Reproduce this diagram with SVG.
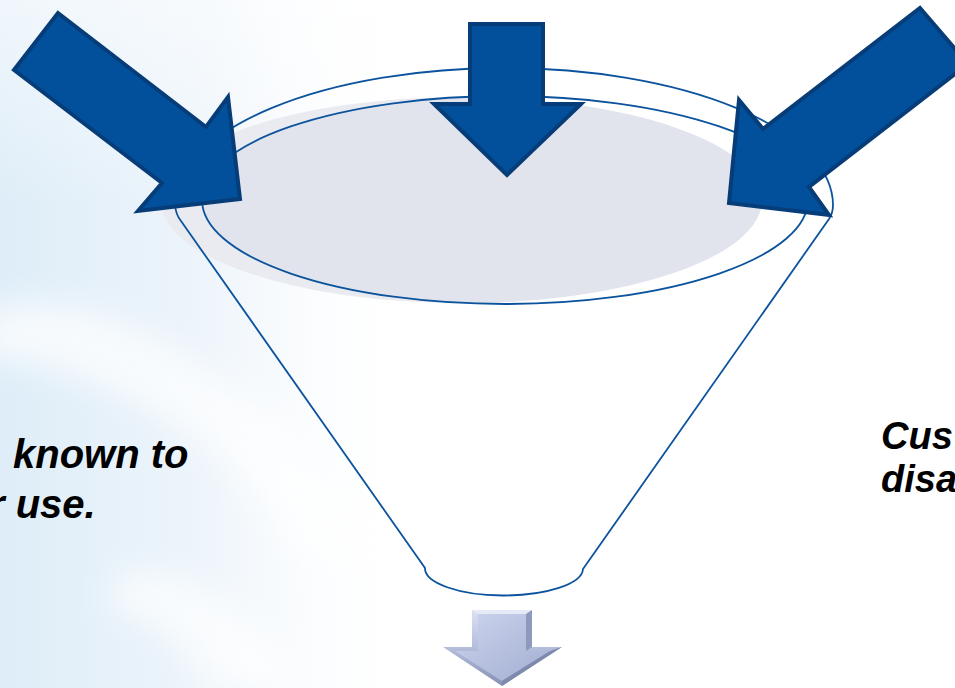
<svg xmlns="http://www.w3.org/2000/svg" width="955" height="688" viewBox="0 0 955 688">
  <defs>
    <linearGradient id="bgWash" x1="0" y1="0" x2="1" y2="0">
      <stop offset="0" stop-color="#deedf8"/>
      <stop offset="0.5" stop-color="#eef5fb"/>
      <stop offset="1" stop-color="#ffffff" stop-opacity="0"/>
    </linearGradient>
    <linearGradient id="bgFade" x1="0" y1="0" x2="0" y2="1">
      <stop offset="0" stop-color="#ffffff" stop-opacity="0.55"/>
      <stop offset="0.3" stop-color="#ffffff" stop-opacity="0"/>
      <stop offset="1" stop-color="#ffffff" stop-opacity="0"/>
    </linearGradient>
    <filter id="blur" x="-50%" y="-50%" width="200%" height="200%">
      <feGaussianBlur stdDeviation="16"/>
    </filter>
    <linearGradient id="silver" x1="0" y1="0" x2="0" y2="1">
      <stop offset="0" stop-color="#dbe1f3"/>
      <stop offset="0.5" stop-color="#b4bedb"/>
      <stop offset="1" stop-color="#8591b5"/>
    </linearGradient>
    <linearGradient id="silverFace" x1="0" y1="0" x2="1" y2="1">
      <stop offset="0" stop-color="#cdd5ee"/>
      <stop offset="1" stop-color="#a2add0"/>
    </linearGradient>
    <clipPath id="grayClip">
      <ellipse cx="461" cy="200" rx="301" ry="103"/>
    </clipPath>
    <style>
      .arrow { fill: #02509b; stroke: #063d78; stroke-width: 4; stroke-linejoin: miter; }
      .rim { fill: none; stroke: #0b539d; stroke-width: 1.8; }
      .lbl { font-family: "Liberation Sans", Arial, sans-serif; font-weight: bold; font-style: italic; fill: #000000; }
    </style>
  </defs>

  <!-- background -->
  <rect x="0" y="0" width="955" height="688" fill="#ffffff"/>
  <rect x="0" y="0" width="420" height="688" fill="url(#bgWash)"/>
  <rect x="0" y="0" width="420" height="688" fill="url(#bgFade)"/>
  <g filter="url(#blur)" opacity="0.7">
    <path d="M -20 310 C 80 280 160 340 240 390 C 300 430 330 480 360 550 L 310 570 C 280 510 230 460 170 420 C 100 380 40 360 -20 360 Z" fill="#ffffff"/>
    <path d="M 120 570 C 200 570 260 610 300 688 L 210 688 C 190 645 160 620 110 610 Z" fill="#ffffff"/>
  </g>

  <!-- funnel -->
  <g id="funnel">
    <ellipse cx="461" cy="200" rx="301" ry="103" fill="#e9ebf1"/>
    <ellipse cx="505" cy="200" rx="303" ry="104" fill="#e1e4ec" clip-path="url(#grayClip)"/>
    <path class="rim" d="M 175 205 A 329 137 0 0 1 833 205"/>
    <path class="rim" d="M 175 205 Q 176 215 181 221 L 425 568 A 79 27 0 0 0 583 569 L 829 219 Q 833 213 833 205"/>
    <ellipse class="rim" cx="505" cy="200" rx="303" ry="104"/>
  </g>

  <!-- input arrows -->
  <g id="arrow-left">
    <polygon class="arrow" points="58,13 206,127 228,97 240,199 138,211 162,183 14,70"/>
  </g>
  <g id="arrow-middle">
    <polygon class="arrow" points="470,24 543,24 543,104 581,104 507,175 434,104 470,104"/>
  </g>
  <g id="arrow-right">
    <polygon class="arrow" points="920,8 968,64 809,187 829,215 729,203 739,100 763,129"/>
  </g>

  <!-- output arrow -->
  <g id="arrow-out">
    <polygon points="472,610 532,610 532,647 562,647 502,686 443,647 472,647" fill="url(#silver)"/>
    <polygon points="478,614 526,614 526,651 550,651 502,681 455,651 478,651" fill="url(#silverFace)"/>
    <polygon points="472,610 532,610 526,614 478,614" fill="#e6eaf7"/>
    <polygon points="532,610 532,647 526,651 526,614" fill="#8e9abd"/>
    <polygon points="562,647 502,686 502,681 550,651" fill="#7d89ad"/>
  </g>

  <!-- labels -->
  <g id="label-left">
    <text class="lbl" x="13" y="468" font-size="40">known to</text>
    <text class="lbl" x="-11" y="518" font-size="40">r use.</text>
  </g>
  <g id="label-right">
    <text class="lbl" x="881" y="449" font-size="38">Cus</text>
    <text class="lbl" x="881" y="492" font-size="38">disa</text>
  </g>
</svg>
